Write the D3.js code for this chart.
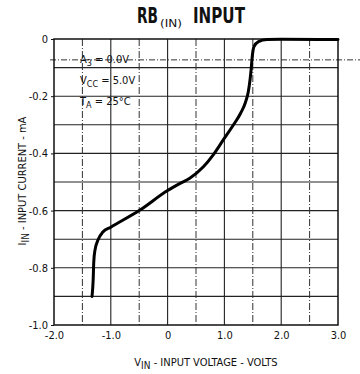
<!DOCTYPE html>
<html>
<head>
<meta charset="utf-8">
<script src="https://cdn.jsdelivr.net/npm/d3@7/dist/d3.min.js"></script>
<style>
  html, body { margin: 0; padding: 0; background: #fff; }
  svg { display: block; }
  .lbl { font-family: "Liberation Sans Narrow", "DejaVu Sans Condensed", "Roboto Condensed", sans-serif; fill: #111; }
</style>
</head>
<body>
<svg id="chart" width="360" height="374"></svg>
<script>
// ---- data ----
const voltage = [-1.33, -1.31, -1.30, -1.28, -1.22, -1.14, -1.0, -0.5, 0.0, 0.22, 0.39, 0.63, 0.80, 0.98, 1.16, 1.29, 1.37, 1.42, 1.45, 1.47, 1.49, 1.52, 1.60, 1.75, 2.0, 3.0];
const current = [-0.90, -0.84, -0.78, -0.74, -0.70, -0.675, -0.658, -0.60, -0.53, -0.505, -0.487, -0.447, -0.406, -0.353, -0.30, -0.258, -0.222, -0.185, -0.145, -0.108, -0.062, -0.027, -0.009, -0.002, -0.001, -0.002];
const xTicks = [-2.0, -1.0, 0, 1.0, 2.0, 3.0];
const xTickLabels = ["-2.0", "-1.0", "0", "1.0", "2.0", "3.0"];
const yTicks = [0, -0.2, -0.4, -0.6, -0.8, -1.0];
const yTickLabels = ["0", "-0.2", "-0.4", "-0.6", "-0.8", "-1.0"];
const xGridSolid = [-1.0, 0, 1.0, 2.0];
const xGridDashed = [-1.5, -0.5, 0.5, 1.5, 2.5];
const yGrid = [-0.1, -0.2, -0.3, -0.4, -0.5, -0.6, -0.7, -0.8, -0.9];
const refLineLevel = -0.073;
const refLineSpan = [-2.07, 3.42];
const conditions = [["A", "3", " = 0.0V"], ["V", "CC", " = 5.0V"], ["T", "A", " = 25°C"]];

// ---- layout ----
const svg = d3.select("#chart");
const L = 54, R = 338, T = 39, B = 325;
const x = d3.scaleLinear().domain([-2, 3]).range([L, R]);
const y = d3.scaleLinear().domain([-1, 0]).range([B, T]);

// gridlines
const g = svg.append("g");
g.selectAll("line.hg").data(yGrid).join("line")
  .attr("x1", x(-2)).attr("x2", x(3))
  .attr("y1", d => y(d)).attr("y2", d => y(d))
  .attr("stroke", "#222").attr("stroke-width", 1.1);
g.selectAll("line.vs").data(xGridSolid).join("line")
  .attr("x1", d => x(d)).attr("x2", d => x(d))
  .attr("y1", y(0)).attr("y2", y(-1))
  .attr("stroke", "#222").attr("stroke-width", 1.1);
g.selectAll("line.vd").data(xGridDashed).join("line")
  .attr("x1", d => x(d)).attr("x2", d => x(d))
  .attr("y1", y(0)).attr("y2", y(-1))
  .attr("stroke", "#333").attr("stroke-width", 1).attr("stroke-dasharray", "7,2,1,2");

// reference dashed line
svg.append("line")
  .attr("x1", x(refLineSpan[0])).attr("x2", x(refLineSpan[1]))
  .attr("y1", y(refLineLevel)).attr("y2", y(refLineLevel))
  .attr("stroke", "#333").attr("stroke-width", 1).attr("stroke-dasharray", "6,2,1,2");

// frame
svg.append("rect").attr("x", L).attr("y", T).attr("width", R - L).attr("height", B - T)
  .attr("fill", "none").attr("stroke", "#111").attr("stroke-width", 1.5);

// axes
const yAxis = d3.axisLeft(y).tickValues(yTicks).tickSize(3).tickPadding(3)
  .tickFormat((d, i) => yTickLabels[i]);
const ya = svg.append("g").attr("transform", `translate(${L},0)`).call(yAxis);
const xAxis = d3.axisBottom(x).tickValues(xTicks).tickSize(0).tickPadding(6)
  .tickFormat((d, i) => xTickLabels[i]);
const xa = svg.append("g").attr("transform", `translate(0,${B})`).call(xAxis);
[ya, xa].forEach(a => {
  a.select(".domain").remove();
  a.selectAll("line").attr("stroke", "#111");
  a.selectAll("text").attr("class", "lbl").style("font-size", "11px").attr("fill", "#111");
});

// curve
const pts = voltage.map((v, i) => [v, current[i]]);
svg.append("path").datum(pts)
  .attr("fill", "none").attr("stroke", "#000").attr("stroke-width", 3)
  .attr("stroke-linejoin", "round").attr("stroke-linecap", "round")
  .attr("d", d3.line().x(d => x(d[0])).y(d => y(d[1])).curve(d3.curveMonotoneX));

// title (three separate pieces, horizontally condensed by scaling)
function condensed(str, x0, y0, width, size, weight) {
  const t = svg.append("text").attr("class", "lbl")
    .style("font-weight", weight).style("font-size", size + "px").text(str);
  const w = t.node().getComputedTextLength();
  t.attr("transform", `translate(${x0},${y0}) scale(${width / w},1)`);
  return t;
}
condensed("RB", 137, 23, 21, 21, "bold");
condensed("(IN)", 160, 27, 22, 11, "normal");
condensed("INPUT", 193, 23, 52, 21, "bold");

// conditions
conditions.forEach((c, i) => {
  const t = svg.append("text").attr("class", "lbl").attr("x", 80).attr("y", 63 + i * 21)
    .style("font-size", "11px");
  t.append("tspan").text(c[0]);
  t.append("tspan").attr("dy", 3).style("font-size", "9px").text(c[1]);
  t.append("tspan").attr("dy", -3).text(c[2]);
});

// x label
const xl = svg.append("text").attr("class", "lbl").attr("x", 206).attr("y", 366)
  .attr("text-anchor", "middle").style("font-size", "11px");
xl.append("tspan").text("V");
xl.append("tspan").attr("dy", 3).style("font-size", "10px").text("IN");
xl.append("tspan").attr("dy", -3).text(" - INPUT VOLTAGE - VOLTS");

// y label
const yl = svg.append("text").attr("class", "lbl")
  .attr("transform", "translate(26,181) rotate(-90)")
  .attr("text-anchor", "middle").style("font-size", "11px");
yl.append("tspan").text("I");
yl.append("tspan").attr("dy", 3).style("font-size", "10px").text("IN");
yl.append("tspan").attr("dy", -3).text(" - INPUT CURRENT - mA");
</script>
</body>
</html>
